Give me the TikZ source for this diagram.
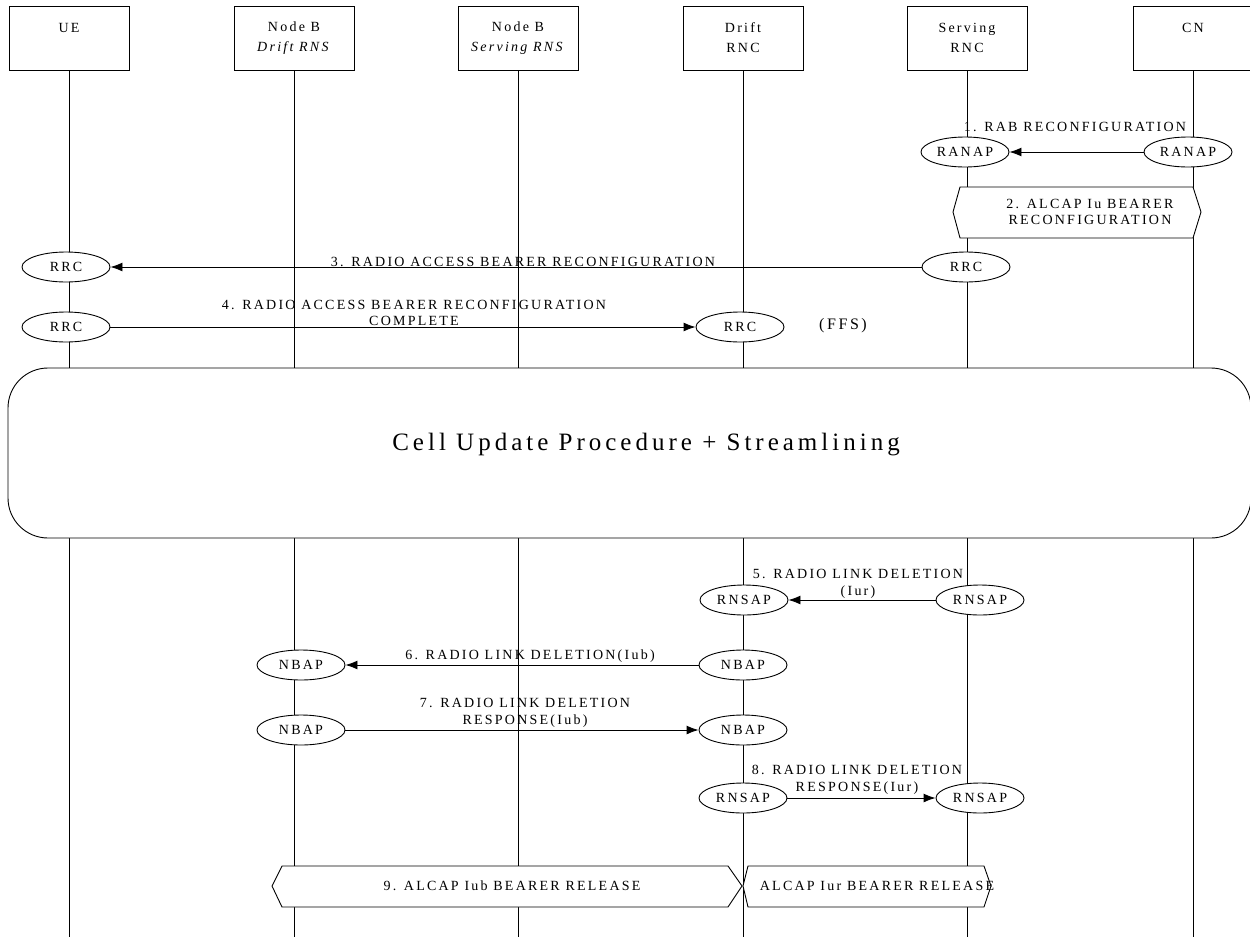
\documentclass[tikz,border=0pt]{standalone}
\usepackage{fontspec}
\setmainfont{Liberation Serif}[LetterSpace=16]
\usetikzlibrary{shapes.geometric,arrows.meta}
\newcommand{\lblfont}{\fontsize{14}{16.5}\selectfont}
\newcommand{\hdrfont}{\fontsize{14}{20}\selectfont}
\newcommand{\entfont}{\fontsize{14}{15}\selectfont}
\newcommand{\ffsfont}{\fontsize{16}{18}\selectfont}
\newcommand{\titlefont}{\fontsize{25}{28}\selectfont}
\begin{document}
\begin{tikzpicture}[x=1pt,y=-1pt,line width=0.9pt,
  hdr/.style={draw, fill=white, minimum width=120pt, minimum height=64pt, align=center, font=\hdrfont, inner sep=2pt},
  ent/.style={ellipse, draw, fill=white, minimum width=88pt, minimum height=30pt, inner sep=0pt, font=\entfont},
  lbl/.style={font=\lblfont, inner sep=0pt, align=center},
  msg/.style={-{Latex[length=12pt,width=9pt]}},
  hexbox/.style={draw, fill=white}]
\useasboundingbox (0,0) rectangle (1250,937);
% lifeline ends
\coordinate (e1) at (69,937);
\coordinate (e2) at (294,937);
\coordinate (e3) at (518,937);
\coordinate (e4) at (743,937);
\coordinate (e5) at (967,937);
\coordinate (e6) at (1193,937);
% headers
\node[hdr] (ue) at (69,38) {UE\\\mbox{}};
\node[hdr] (nbd) at (294,38) {Node B\\\textit{Drift RNS}};
\node[hdr] (nbs) at (518,38) {Node B\\\textit{Serving RNS}};
\node[hdr] (drnc) at (743,38) {Drift\\RNC};
\node[hdr] (srnc) at (967,38) {Serving\\RNC};
\node[hdr] (cn) at (1193,38) {CN\\\mbox{}};
\draw (ue.south) -- (e1);
\draw (nbd.south) -- (e2);
\draw (nbs.south) -- (e3);
\draw (drnc.south) -- (e4);
\draw (srnc.south) -- (e5);
\draw (cn.south) -- (e6);
% 1
\node[ent] (ranapS) at (965,152) {RANAP};
\node[ent] (ranapC) at (1188,152) {RANAP};
\draw[msg] (ranapC) -- (ranapS);
\node[lbl, anchor=base] (l1) at (1075,131) {1. RAB RECONFIGURATION};
% 2
\draw[hexbox] (953,212) -- (960,187) -- (1193,187) -- (1201,212) -- (1193,238) -- (960,238) -- cycle;
\node[lbl] (l2) at (1090,212) {2. ALCAP Iu BEARER\\RECONFIGURATION};
% 3
\node[ent] (rrcU1) at (66,267) {RRC};
\node[ent] (rrcS) at (966,267) {RRC};
\draw[msg] (rrcS) -- (rrcU1);
\node[lbl, anchor=base] (l3) at (523,266) {3. RADIO ACCESS BEARER RECONFIGURATION};
% 4
\node[ent] (rrcU2) at (66,327) {RRC};
\node[ent] (rrcD) at (740,327) {RRC};
\draw[msg] (rrcU2) -- (rrcD);
\node[lbl] (l4) at (414,313) {4. RADIO ACCESS BEARER RECONFIGURATION\\COMPLETE};
\node[font=\ffsfont, inner sep=0pt] (ffs) at (843,326) {(FFS)};
% cell update
\draw[fill=white, rounded corners=40pt] (8,368) rectangle (1251,538);
\node[font=\titlefont, inner sep=0pt] (title) at (646,445) {Cell Update Procedure + Streamlining};
% 5
\node[ent] (rnsapS1) at (980,600) {RNSAP};
\node[ent] (rnsapD1) at (744,600) {RNSAP};
\draw[msg] (rnsapS1) -- (rnsapD1);
\node[lbl] (l5) at (858,584) {5. RADIO LINK DELETION\\(Iur)};
% 6
\node[ent] (nbapD1) at (743,665) {NBAP};
\node[ent] (nbapB1) at (301,665) {NBAP};
\draw[msg] (nbapD1) -- (nbapB1);
\node[lbl, anchor=base] (l6) at (530,659) {6. RADIO LINK DELETION(Iub)};
% 7
\node[ent] (nbapB2) at (301,730) {NBAP};
\node[ent] (nbapD2) at (743,730) {NBAP};
\draw[msg] (nbapB2) -- (nbapD2);
\node[lbl] (l7) at (525,713) {7. RADIO LINK DELETION\\RESPONSE(Iub)};
% 8
\node[ent] (rnsapD2) at (743,798) {RNSAP};
\node[ent] (rnsapS2) at (980,798) {RNSAP};
\draw[msg] (rnsapD2) -- (rnsapS2);
\node[lbl] (l8) at (857,780) {8. RADIO LINK DELETION\\RESPONSE(Iur)};
% 9
\draw[hexbox] (272,886) -- (282,866) -- (728,866) -- (742,886) -- (728,907) -- (282,907) -- cycle;
\node[lbl] (l9) at (512,886) {9. ALCAP Iub BEARER RELEASE};
\draw[hexbox] (743,886) -- (748,866) -- (984,866) -- (991,886) -- (984,907) -- (748,907) -- cycle;
\node[lbl] (l9b) at (877,886) {ALCAP Iur BEARER RELEASE};
\end{tikzpicture}
\end{document}
